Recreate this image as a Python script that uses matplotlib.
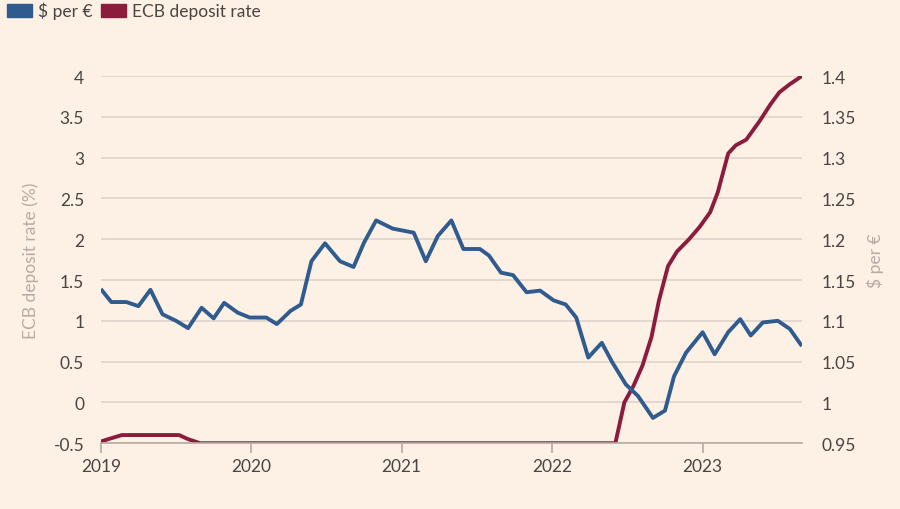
import matplotlib
matplotlib.use('Agg')
import matplotlib.pyplot as plt
import matplotlib.patches as mpatches

plt.rcParams['font.family'] = ['Lato', 'DejaVu Sans']

# ECB deposit rate (%), left axis
ecb_t = [2019.00, 2019.05, 2019.14, 2019.52, 2019.58, 2019.66, 2020.5, 2021.5, 2022.42,
         2022.48, 2022.54, 2022.60, 2022.66, 2022.71, 2022.77, 2022.83, 2022.91, 2022.98,
         2023.05, 2023.10, 2023.17, 2023.22, 2023.29, 2023.38, 2023.45, 2023.51, 2023.58, 2023.66]
ecb_v = [-0.48, -0.45, -0.40, -0.40, -0.45, -0.50, -0.50, -0.50, -0.50,
         0.00, 0.20, 0.45, 0.80, 1.25, 1.67, 1.85, 2.00, 2.15,
         2.33, 2.57, 3.05, 3.15, 3.22, 3.45, 3.65, 3.80, 3.90, 4.00]

# $ per euro, right axis
usd_t = [2019.00, 2019.07, 2019.17, 2019.25, 2019.33, 2019.41, 2019.50, 2019.58, 2019.67,
         2019.75, 2019.82, 2019.91, 2019.99, 2020.10, 2020.17, 2020.26, 2020.33, 2020.40,
         2020.49, 2020.59, 2020.68, 2020.75, 2020.83, 2020.94, 2021.08, 2021.16, 2021.24,
         2021.33, 2021.41, 2021.52, 2021.58, 2021.66, 2021.74, 2021.83, 2021.92, 2022.01,
         2022.09, 2022.16, 2022.24, 2022.33, 2022.40, 2022.49, 2022.57, 2022.67, 2022.75,
         2022.81, 2022.89, 2023.00, 2023.08, 2023.17, 2023.25, 2023.32, 2023.40, 2023.50,
         2023.58, 2023.66]
usd_v = [1.139, 1.123, 1.123, 1.118, 1.138, 1.108, 1.100, 1.091, 1.116,
         1.103, 1.122, 1.110, 1.104, 1.104, 1.096, 1.112, 1.120, 1.173,
         1.195, 1.173, 1.166, 1.196, 1.223, 1.213, 1.208, 1.173, 1.204,
         1.223, 1.188, 1.188, 1.180, 1.159, 1.156, 1.135, 1.137, 1.125,
         1.120, 1.104, 1.055, 1.073, 1.049, 1.022, 1.008, 0.981, 0.990,
         1.032, 1.061, 1.086, 1.059, 1.086, 1.102, 1.082, 1.098, 1.100,
         1.090, 1.069]

years = [2019, 2020, 2021, 2022, 2023]
left_ticks = [-0.5, 0, 0.5, 1, 1.5, 2, 2.5, 3, 3.5, 4]
left_labels = ['-0.5', '0', '0.5', '1', '1.5', '2', '2.5', '3', '3.5', '4']
right_ticks = [0.95, 1, 1.05, 1.1, 1.15, 1.2, 1.25, 1.3, 1.35, 1.4]
right_labels = ['0.95', '1', '1.05', '1.1', '1.15', '1.2', '1.25', '1.3', '1.35', '1.4']

bg = '#fdf1e6'
blue = '#2f5b8f'
red = '#8c1c3e'
txt = '#4a4542'
grid = '#ddd4cb'

fig = plt.figure(figsize=(9, 5.1), dpi=100, facecolor=bg)
ax = fig.add_axes([0.112, 0.129, 0.779, 0.72])
ax.set_facecolor(bg)
ax2 = ax.twinx()

ax.plot(ecb_t, ecb_v, color=red, lw=2.8, solid_capstyle='butt', solid_joinstyle='round')
ax2.plot(usd_t, usd_v, color=blue, lw=2.8, solid_capstyle='butt', solid_joinstyle='round')

ax.set_xlim(2019, 2023.66)
ax.set_ylim(-0.5, 4)
ax2.set_ylim(0.95, 1.4)

ax.set_yticks(left_ticks)
ax.set_yticklabels(left_labels)
ax2.set_yticks(right_ticks)
ax2.set_yticklabels(right_labels)
ax.set_xticks(years)
ax.set_xticklabels([str(y) for y in years])

for a in (ax, ax2):
    for s in a.spines.values():
        s.set_visible(False)
ax.spines['bottom'].set_visible(True)
ax.spines['bottom'].set_color('#b3aba3')
ax.spines['bottom'].set_linewidth(1.2)

ax.grid(axis='y', color=grid, lw=1.2)
ax.set_axisbelow(True)
ax.tick_params(axis='y', length=0, pad=12, labelsize=12.5, labelcolor=txt)
ax2.tick_params(axis='y', length=0, pad=14, labelsize=12.5, labelcolor=txt)
ax.tick_params(axis='x', length=7, width=1.2, color='#b3aba3', pad=4,
               labelsize=12.5, labelcolor=txt)

ax.set_ylabel('ECB deposit rate (%)', color='#b5aca5', fontsize=12.5, labelpad=10)
ax2.set_ylabel('$ per €', color='#b5aca5', fontsize=12.5, labelpad=8)

handles = [mpatches.Patch(color=blue, label='$ per €'),
           mpatches.Patch(color=red, label='ECB deposit rate')]
fig.legend(handles=handles, loc='upper left', bbox_to_anchor=(7 / 900, 1 - 3 / 510), ncol=2,
           frameon=False, fontsize=12.5, handlelength=1.45, handleheight=0.75,
           handletextpad=0.35, columnspacing=0.45, labelcolor=txt,
           borderpad=0, borderaxespad=0)

fig.savefig('out.png', dpi=100, facecolor=bg)
